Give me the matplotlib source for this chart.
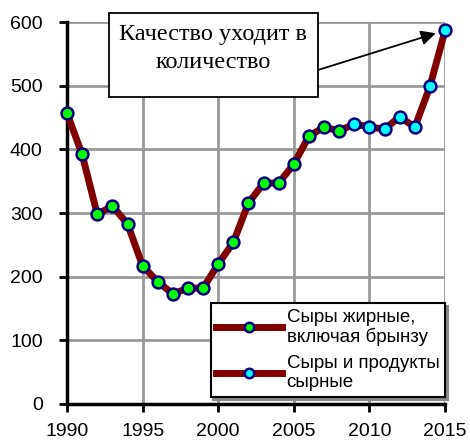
import matplotlib
matplotlib.use('Agg')
import matplotlib.pyplot as plt
from matplotlib.patches import Rectangle

# Data
years_fat = [1990, 1991, 1992, 1993, 1994, 1995, 1996, 1997, 1998, 1999,
             2000, 2001, 2002, 2003, 2004, 2005, 2006, 2007, 2008]
fat_cheese = [457, 392, 298, 311, 283, 217, 192, 173, 182, 182,
              220, 254, 316, 347, 347, 377, 421, 435, 429]

years_prod = [2008, 2009, 2010, 2011, 2012, 2013, 2014, 2015]
cheese_products = [429, 440, 435, 432, 451, 435, 499, 587]

x_ticks = [1990, 1995, 2000, 2005, 2010, 2015]
y_ticks = [0, 100, 200, 300, 400, 500, 600]

line_color = '#800000'
edge_color = '#000080'

fig = plt.figure(figsize=(4.70, 4.42), dpi=100)
ax = fig.add_axes([0.1426, 0.086, 0.8044, 0.864])

# second series first, so the 2008 shared point shows the green marker
ax.plot(years_prod[1:], cheese_products[1:], color=line_color, lw=5,
        marker='o', ms=8.5, mfc='#00FFFF', mec=edge_color, mew=1.8,
        clip_on=False, zorder=3, label='Сыры и продукты\nсырные')
ax.plot(years_prod[:2], cheese_products[:2], color=line_color, lw=5,
        solid_capstyle='round', zorder=2)
ax.plot(years_fat, fat_cheese, color=line_color, lw=5,
        marker='o', ms=8.5, mfc='#00FF00', mec=edge_color, mew=1.8,
        clip_on=False, zorder=4, label='Сыры жирные,\nвключая брынзу')

ax.set_xlim(1990, 2015)
ax.set_ylim(0, 600)
ax.set_xticks(x_ticks)
ax.set_yticks(y_ticks)
ax.grid(True, color='#999999', lw=2)
ax.set_axisbelow(True)

for side in ['top', 'right']:
    ax.spines[side].set_visible(False)
for side in ['left', 'bottom']:
    ax.spines[side].set_linewidth(2.5)
    ax.spines[side].set_color('black')

ax.tick_params(axis='both', direction='out', length=6, width=2,
               labelsize=14, colors='black')
ax.tick_params(axis='x', pad=8)
ax.tick_params(axis='y', pad=11.5)
for lbl in ax.get_xticklabels() + ax.get_yticklabels():
    lbl.set_family('Liberation Sans')

handles, labels = ax.get_legend_handles_labels()
leg = fig.legend(handles[::-1], labels[::-1], loc='lower right',
                 bbox_to_anchor=(445 / 470, 45 / 442), frameon=True, fancybox=False,
                 shadow={'color': '#888888', 'alpha': 1, 'ox': 2, 'oy': -2},
                 edgecolor='black',
                 prop={'family': 'Liberation Sans', 'size': 13.5},
                 handlelength=3.5, handletextpad=0.25, borderpad=0.3,
                 labelspacing=0.5, borderaxespad=0.0, markerscale=0.8)
leg.get_frame().set_linewidth(1.5)
leg.set_zorder(10)
for t in leg.get_texts():
    t.set_linespacing(1.15)

# callout box
box = Rectangle((109 / 470, 345 / 442), 209 / 470, 84 / 442,
                transform=fig.transFigure, fc='white', ec='black', lw=1.3,
                zorder=10)
fig.patches.append(box)
fig.text(213 / 470, (442 - 40) / 442, 'Качество уходит в',
         ha='center', va='baseline', fontsize=17.5, family='Liberation Serif',
         zorder=11)
fig.text(213 / 470, (442 - 68) / 442, 'количество',
         ha='center', va='baseline', fontsize=17.5, family='Liberation Serif',
         zorder=11)
ax.annotate('', xy=(2015, 587), xytext=(318 / 470, 372 / 442),
            textcoords='figure fraction',
            arrowprops=dict(arrowstyle='-|>', color='black', lw=1.3,
                            mutation_scale=22, shrinkA=0, shrinkB=7),
            zorder=11)

fig.savefig('out.png', dpi=100)
